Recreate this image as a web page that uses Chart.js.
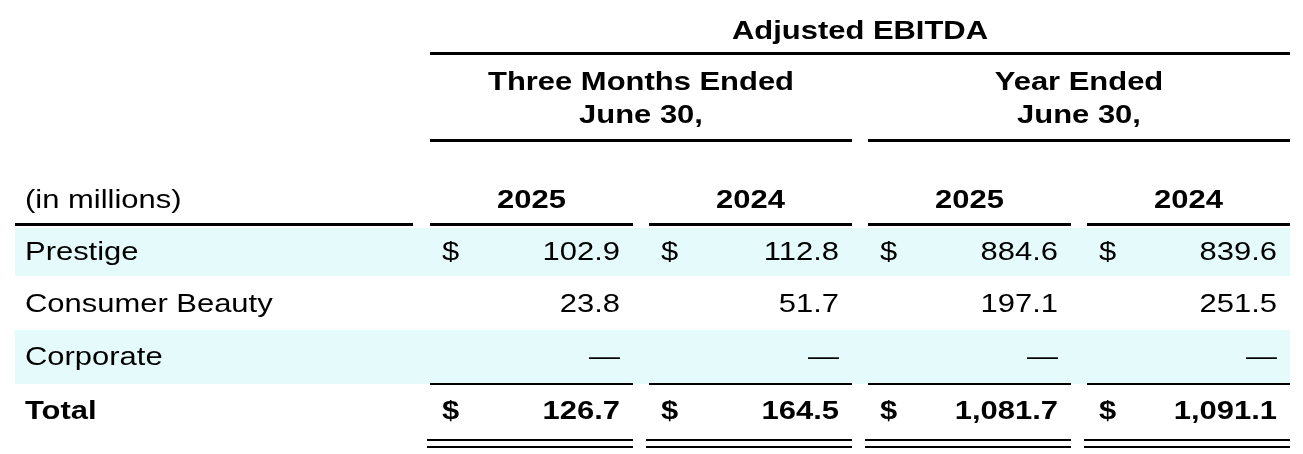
<!DOCTYPE html>
<html>
<head>
<meta charset="utf-8">
<script src="https://cdn.jsdelivr.net/npm/chart.js@4"></script>
<style>
  html, body { margin: 0; padding: 0; background: #fff; }
  #wrap { width: 1303px; height: 454px; }
</style>
</head>
<body>
<div id="wrap"><canvas id="table-chart"></canvas></div>
<script>
const title = "Adjusted EBITDA";
const groups = ["Three Months Ended\nJune 30,", "Year Ended\nJune 30,"];
const years = ["2025", "2024", "2025", "2024"];
const unitLabel = "(in millions)";
const rowLabels = ["Prestige", "Consumer Beauty", "Corporate", "Total"];
const prestige = ["102.9", "112.8", "884.6", "839.6"];
const consumerBeauty = ["23.8", "51.7", "197.1", "251.5"];
const corporate = ["—", "—", "—", "—"];
const total = ["126.7", "164.5", "1,081.7", "1,091.1"];
const rowValues = [prestige, consumerBeauty, corporate, total];
const dollarRows = [true, false, false, true];

const FONT = "'Liberation Sans', Arial, sans-serif";
const cols = [[430, 633], [649, 852], [868, 1071], [1087, 1290]];
const rowTops = [228, 278, 330, 384];
const rowH = [48, 52, 54, 54];
const STRETCH = 1.19; // the source text is set wider than it is tall

function drawText(ctx, text, x, y, align) {
  ctx.save();
  ctx.translate(x, y);
  ctx.scale(STRETCH, 1);
  ctx.textAlign = align;
  ctx.fillText(text, 0, 0);
  ctx.restore();
}

const tablePlugin = {
  id: "tableDraw",
  afterDraw(chart) {
    const ctx = chart.ctx;
    ctx.save();
    ctx.fillStyle = "#e5fbfb";
    [0, 2].forEach((r) => ctx.fillRect(15, rowTops[r], 1275, rowH[r]));

    ctx.fillStyle = "#000";
    ctx.textBaseline = "middle";
    ctx.font = "bold 26px " + FONT;
    drawText(ctx, title, 860, 32, "center");
    ctx.fillRect(430, 52, 860, 3);

    groups.forEach((g, i) => {
      const x0 = cols[i * 2][0], x1 = cols[i * 2 + 1][1];
      g.split("\n").forEach((line, k) => drawText(ctx, line, (x0 + x1) / 2, 83 + k * 33, "center"));
      ctx.fillRect(x0, 139, x1 - x0, 3);
    });

    years.forEach((y, i) => drawText(ctx, y, (cols[i][0] + cols[i][1]) / 2, 201, "center"));

    ctx.font = "26px " + FONT;
    drawText(ctx, unitLabel, 25, 201, "left");
    ctx.fillRect(15, 223, 398, 3);
    cols.forEach(([a, b]) => ctx.fillRect(a, 223, b - a, 3));

    rowLabels.forEach((label, r) => {
      const y = rowTops[r] + rowH[r] / 2 + 1;
      const bold = r === rowLabels.length - 1;
      ctx.font = (bold ? "bold " : "") + "26px " + FONT;
      drawText(ctx, label, 25, y, "left");
      rowValues[r].forEach((v, i) => {
        if (dollarRows[r]) drawText(ctx, "$", cols[i][0] + 12, y, "left");
        drawText(ctx, v, cols[i][1] - 13, y, "right");
      });
    });

    cols.forEach(([a, b]) => {
      ctx.fillRect(a, 383, b - a, 2);
      ctx.fillRect(a - 3, 439, b - a + 3, 2);
      ctx.fillRect(a - 3, 446, b - a + 3, 2);
    });
    ctx.restore();
  }
};

new Chart(document.getElementById("table-chart"), {
  type: "bar",
  data: { labels: rowLabels, datasets: [{ data: [], backgroundColor: "transparent" }] },
  options: {
    responsive: true,
    maintainAspectRatio: false,
    animation: false,
    events: [],
    plugins: { legend: { display: false }, tooltip: { enabled: false } },
    scales: { x: { display: false }, y: { display: false } }
  },
  plugins: [tablePlugin]
});
</script>
</body>
</html>
